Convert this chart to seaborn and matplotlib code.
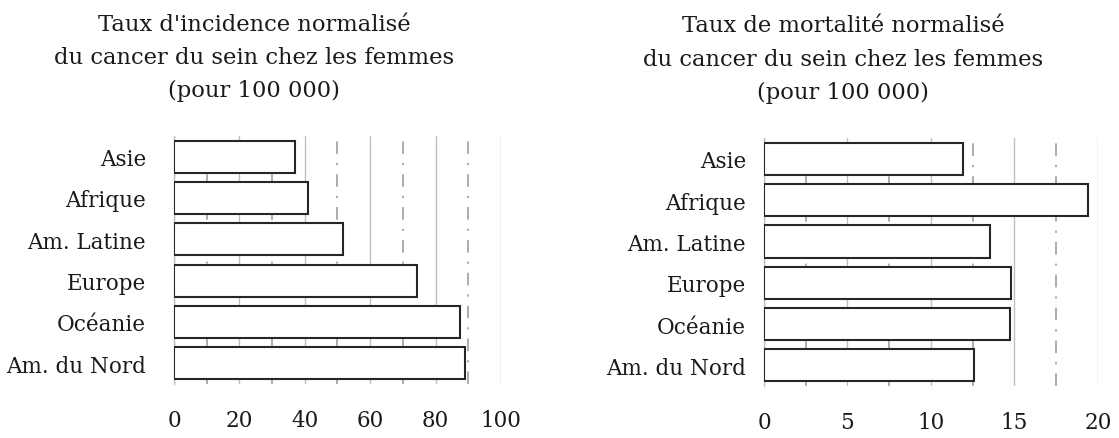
# %%
# taux d'incidence et de mortalité du cancer du sein - deux barplots poziome
import pandas as pd
import numpy as np
import matplotlib.pyplot as plt
import seaborn as sns
from matplotlib.ticker import MultipleLocator

# dane
regions = ['Asie', 'Afrique', 'Am. Latine', 'Europe', 'Océanie', 'Am. du Nord']
incidence = [36.9, 41.0, 51.7, 74.3, 87.6, 89.1]
mortalite = [11.9, 19.4, 13.55, 14.8, 14.75, 12.55]

titre_inc = "Taux d'incidence normalisé\ndu cancer du sein chez les femmes\n(pour 100 000)"
titre_mort = "Taux de mortalité normalisé\ndu cancer du sein chez les femmes\n(pour 100 000)"

sns.set_theme(style='white')
plt.rcParams['font.family'] = ['DejaVu Serif']

fig = plt.figure(figsize=(11.19, 4.39), dpi=100)
ax1 = fig.add_axes([0.1555, 0.123, 0.2922, 0.565])
ax2 = fig.add_axes([0.6827, 0.1185, 0.2985, 0.5645])

# wykresy
for ax, vals, xmax, major in [(ax1, incidence, 100, 20), (ax2, mortalite, 20, 5)]:
    df = pd.DataFrame({'region': regions, 'val': vals})
    sns.barplot(data=df, x='val', y='region', orient='h', color='white',
                edgecolor='#262626', linewidth=1.5, width=0.78, saturation=1,
                ax=ax, zorder=3)
    ax.set_xlim(0, xmax)
    ax.xaxis.set_major_locator(MultipleLocator(major))
    ax.xaxis.set_minor_locator(MultipleLocator(major / 2))
    ax.set_axisbelow(True)
    ax.grid(axis='x', which='major', color='#bfbfbf', linewidth=1.0, linestyle='-')
    ax.grid(axis='x', which='minor', color='#a6a6a6', linewidth=1.3,
            linestyle=(0, (7, 5, 1.2, 5)))
    ax.grid(axis='y', visible=False)
    for s in ['top', 'right', 'bottom']:
        ax.spines[s].set_visible(False)
    ax.spines['left'].set_color('#bfbfbf')
    ax.spines['left'].set_linewidth(1.0)
    ax.tick_params(axis='both', which='both', length=0)
    ax.tick_params(axis='x', labelsize=15.5, pad=18, labelcolor='#1a1a1a')
    ax.tick_params(axis='y', labelsize=15.5, pad=20, labelcolor='#1a1a1a')
    ax.set_xlabel('')
    ax.set_ylabel('')

ax2.tick_params(axis='y', pad=13)

# tytuły
fig.text(254 / 1119, 0.868, titre_inc, ha='center', va='center',
         multialignment='center', fontsize=16.3, linespacing=1.66, color='#1a1a1a')
fig.text(843 / 1119, 0.864, titre_mort, ha='center', va='center',
         multialignment='center', fontsize=16.3, linespacing=1.66, color='#1a1a1a')

plt.savefig('out.png', dpi=100)
